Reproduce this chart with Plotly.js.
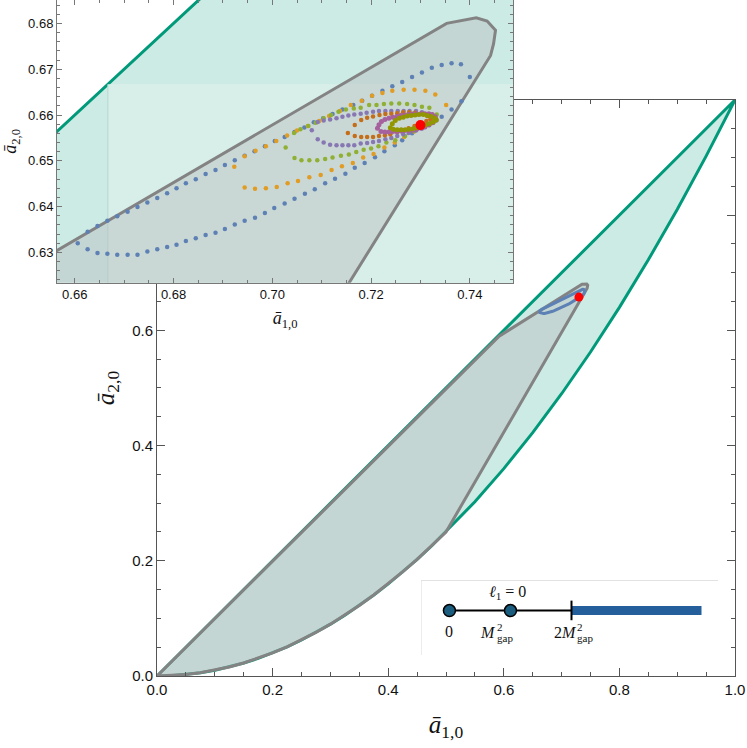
<!DOCTYPE html>
<html>
<head>
<meta charset="utf-8">
<script src="https://cdn.plot.ly/plotly-3.0.1.min.js"></script>
<style>
  html, body { margin: 0; padding: 0; background: #fff; }
  #plot { width: 747px; height: 748px; }
</style>
</head>
<body>
<div id="plot"></div>
<script>
// Allowed region: between the parabola and the diagonal.
const allowedX = [0, 0.025, 0.05, 0.075, 0.1, 0.125, 0.15, 0.175, 0.2, 0.225, 0.25, 0.275, 0.3,
  0.325, 0.35, 0.375, 0.4, 0.425, 0.45, 0.475, 0.5,
  0.55, 0.6, 0.65, 0.7, 0.75, 0.8, 0.85, 0.9, 0.95, 1];
const allowedLower = [0, 0.000625, 0.0025, 0.005625, 0.01, 0.015625, 0.0225, 0.030625, 0.04,
  0.050625, 0.0625, 0.075625, 0.09, 0.105625, 0.1225, 0.140625, 0.16, 0.180625, 0.2025, 0.225625, 0.25,
  0.3025, 0.36, 0.4225, 0.49, 0.5625, 0.64, 0.7225, 0.81, 0.9025, 1];
const allowedUpperX = [0, 1];
const allowedUpperY = [0, 1];

// Gapped region (grey).
const grayUpperX = [0, 0.592, 0.7353, 0.7395, 0.7413, 0.7435, 0.7452, 0.7448, 0.7442];
const grayUpperY = [0, 0.590, 0.6800, 0.6808, 0.6812, 0.6805, 0.6785, 0.6755, 0.6730];
const grayLowerX = [0.5, 0.475, 0.45, 0.425, 0.4, 0.375, 0.35, 0.325, 0.3, 0.275, 0.25, 0.225,
  0.2, 0.175, 0.15, 0.125, 0.1, 0.075, 0.05, 0.025, 0];
const grayLowerY = [0.25, 0.225625, 0.2025, 0.180625, 0.16, 0.140625, 0.1225, 0.105625, 0.09,
  0.075625, 0.0625, 0.050625, 0.04, 0.030625, 0.0225, 0.015625, 0.01, 0.005625, 0.0025, 0.000625, 0];

// Lighter patch seen in the zoomed panel.
const patchX = [0.6667, 0.76];
const patchY = [0.60, 0.6667];

// Dotted series in the zoomed panel.
const blueX = [0.6606, 0.6626, 0.6646, 0.6666, 0.6686, 0.6707, 0.6727, 0.6747, 0.6767, 0.6787,
  0.6806, 0.6825, 0.6845, 0.6865, 0.6885, 0.6904, 0.6924, 0.6944, 0.6964, 0.6985, 0.7005, 0.7025,
  0.7045, 0.7065, 0.7084, 0.7103, 0.7122, 0.7142, 0.7164, 0.7182, 0.7202, 0.7223, 0.7243, 0.7263,
  0.7283, 0.7303, 0.7323, 0.7343, 0.7363, 0.7382, 0.7400,
  0.7383, 0.7363, 0.7343, 0.7323, 0.7303, 0.7283, 0.7263, 0.7248, 0.7227, 0.7208, 0.7187, 0.7167,
  0.7148, 0.7127, 0.7107, 0.7086, 0.7066, 0.7045, 0.7025, 0.7004, 0.6985, 0.6965, 0.6944, 0.6924,
  0.6904, 0.6885, 0.6865, 0.6845, 0.6825, 0.6806, 0.6787, 0.6767, 0.6747, 0.6727, 0.6707, 0.6686,
  0.6666, 0.6646, 0.6626];
const blueY = [0.6320, 0.6345, 0.6358, 0.6369, 0.6379, 0.6389, 0.6399, 0.6409, 0.6419, 0.6429,
  0.6440, 0.6451, 0.6460, 0.6471, 0.6480, 0.6491, 0.6501, 0.6511, 0.6521, 0.6532, 0.6543, 0.6552,
  0.6563, 0.6573, 0.6584, 0.6593, 0.6602, 0.6612, 0.6622, 0.6631, 0.6642, 0.6653, 0.6663, 0.6672,
  0.6683, 0.6693, 0.6703, 0.6709, 0.6713, 0.6711, 0.6683,
  0.6630, 0.6612, 0.6596, 0.6583, 0.6571, 0.6560, 0.6545, 0.6534, 0.6521, 0.6508, 0.6495, 0.6485,
  0.6472, 0.6461, 0.6451, 0.6438, 0.6428, 0.6417, 0.6407, 0.6397, 0.6386, 0.6376, 0.6369, 0.6361,
  0.6351, 0.6343, 0.6338, 0.6331, 0.6325, 0.6317, 0.6312, 0.6307, 0.6302, 0.6295, 0.6295, 0.6295,
  0.6297, 0.6299, 0.6307];

const orangeX = [0.6923, 0.6944, 0.6966, 0.6987, 0.7008, 0.7030, 0.7050, 0.7072, 0.7095, 0.7115,
  0.7137, 0.7159, 0.7181, 0.7202, 0.7223, 0.7243, 0.7266, 0.7288, 0.7310, 0.7330, 0.7352,
  0.7332, 0.7310, 0.7287, 0.7267, 0.7248, 0.7227, 0.7205, 0.7184, 0.7163, 0.7141, 0.7120, 0.7098,
  0.7075, 0.7052, 0.7031, 0.7009, 0.6987, 0.6965, 0.6944];
const orangeY = [0.6487, 0.6510, 0.6522, 0.6532, 0.6543, 0.6555, 0.6566, 0.6576, 0.6587, 0.6598,
  0.6609, 0.6622, 0.6631, 0.6642, 0.6648, 0.6653, 0.6655, 0.6655, 0.6653, 0.6645, 0.6622,
  0.6591, 0.6576, 0.6564, 0.6552, 0.6540, 0.6529, 0.6515, 0.6507, 0.6495, 0.6488, 0.6480, 0.6469,
  0.6464, 0.6456, 0.6451, 0.6443, 0.6440, 0.6439, 0.6442];

const greenX = [0.7027, 0.7044, 0.7057, 0.7073, 0.7088, 0.7104, 0.7119, 0.7134, 0.7149, 0.7165,
  0.7179, 0.7196, 0.7211, 0.7226, 0.7241, 0.7257, 0.7273, 0.7288, 0.7303, 0.7318, 0.7333,
  0.7322, 0.7306, 0.7288, 0.7269, 0.7249, 0.7231, 0.7215, 0.7200, 0.7185, 0.7170, 0.7155, 0.7139,
  0.7122, 0.7107, 0.7091, 0.7075, 0.7059, 0.7045];
const greenY = [0.6529, 0.6561, 0.6569, 0.6576, 0.6583, 0.6593, 0.6600, 0.6607, 0.6612, 0.6614,
  0.6616, 0.6622, 0.6622, 0.6624, 0.6625, 0.6625, 0.6624, 0.6622, 0.6618, 0.6616, 0.6601,
  0.6587, 0.6576, 0.6565, 0.6554, 0.6545, 0.6540, 0.6532, 0.6527, 0.6524, 0.6519, 0.6514, 0.6511,
  0.6507, 0.6504, 0.6501, 0.6501, 0.6501, 0.6506];

const purpleX = [0.7080, 0.7092, 0.7104, 0.7117, 0.7130, 0.7142, 0.7154, 0.7166, 0.7179, 0.7191,
  0.7204, 0.7216, 0.7229, 0.7241, 0.7254, 0.7266, 0.7278, 0.7291, 0.7303, 0.7314, 0.7325, 0.7332,
  0.7318, 0.7304, 0.7291, 0.7276, 0.7265, 0.7253, 0.7241, 0.7229, 0.7216, 0.7204, 0.7192, 0.7179,
  0.7166, 0.7154, 0.7142, 0.7130, 0.7117, 0.7104, 0.7092];
const purpleY = [0.6567, 0.6585, 0.6588, 0.6590, 0.6593, 0.6596, 0.6599, 0.6601, 0.6603, 0.6605,
  0.6607, 0.6609, 0.6609, 0.6609, 0.6609, 0.6609, 0.6609, 0.6609, 0.6606, 0.6601, 0.6596, 0.6588,
  0.6578, 0.6571, 0.6566, 0.6561, 0.6558, 0.6554, 0.6550, 0.6547, 0.6543, 0.6541, 0.6539, 0.6538,
  0.6534, 0.6534, 0.6534, 0.6534, 0.6535, 0.6540, 0.6547];

const rustX = [0.7153, 0.7167, 0.7180, 0.7192, 0.7204, 0.7217, 0.7229, 0.7241, 0.7253, 0.7265,
  0.7277, 0.7289, 0.7302, 0.7314, 0.7320, 0.7312, 0.7301, 0.7288, 0.7276, 0.7264, 0.7253, 0.7239,
  0.7228, 0.7216, 0.7204, 0.7192, 0.7180, 0.7167];
const rustY = [0.6561, 0.6578, 0.6589, 0.6594, 0.6597, 0.6600, 0.6602, 0.6603, 0.6604, 0.6606,
  0.6606, 0.6605, 0.6603, 0.6598, 0.6591, 0.6587, 0.6580, 0.6576, 0.6571, 0.6567, 0.6563, 0.6558,
  0.6556, 0.6554, 0.6552, 0.6552, 0.6552, 0.6554];

const magentaX = [0.7213, 0.7216, 0.7221, 0.7228, 0.7236, 0.7244, 0.7252, 0.7260, 0.7268, 0.7276,
  0.7284, 0.7292, 0.7301, 0.7309, 0.7317, 0.7324, 0.7330, 0.7331, 0.7325, 0.7317, 0.7309, 0.7301,
  0.7292, 0.7284, 0.7276, 0.7268, 0.7260, 0.7252, 0.7244, 0.7236, 0.7228, 0.7220];
const magentaY = [0.6571, 0.6579, 0.6586, 0.6590, 0.6593, 0.6595, 0.6597, 0.6599, 0.6600, 0.6601,
  0.6602, 0.6603, 0.6603, 0.6603, 0.6603, 0.6601, 0.6596, 0.6590, 0.6583, 0.6578, 0.6574, 0.6571,
  0.6569, 0.6567, 0.6566, 0.6566, 0.6565, 0.6564, 0.6564, 0.6563, 0.6563, 0.6564];

const oliveX = [0.7239, 0.7243, 0.7249, 0.7257, 0.7265, 0.7273, 0.7281, 0.7289, 0.7297, 0.7306,
  0.7314, 0.7322, 0.7329, 0.7332, 0.7326, 0.7318, 0.7310, 0.7302, 0.7293, 0.7285, 0.7277, 0.7269,
  0.7261, 0.7253, 0.7245];
const oliveY = [0.6572, 0.6581, 0.6588, 0.6593, 0.6595, 0.6598, 0.6599, 0.6600, 0.6601, 0.6601,
  0.6599, 0.6597, 0.6593, 0.6589, 0.6585, 0.6581, 0.6578, 0.6575, 0.6572, 0.6570, 0.6569, 0.6568,
  0.6568, 0.6568, 0.6569];

const redPoint = [0.7300, 0.6578];

// Spectrum sketch (units of M_gap^2).
const specStates = [0, 1];
const specLine = [0, 2];
const specCut = 2;
const specContinuum = [2, 4.13];

const TEAL = '#cdebe5';
const TEAL_LIGHT = '#d8eee9';
const GREEN = '#009a7a';
const GRAY_LINE = '#838383';
const GRAY_FILL = 'rgba(183,186,186,0.42)';
const AX = '#555';

const allowedPolyX = allowedUpperX.slice(0, 1).concat(allowedX.slice().reverse());
const allowedPolyY = allowedUpperY.slice(0, 1).concat(allowedLower.slice().reverse());
const grayPolyX = grayUpperX.concat(grayLowerX);
const grayPolyY = grayUpperY.concat(grayLowerY);

function regionTrace(xa, ya) {
  return { x: allowedPolyX, y: allowedPolyY, xaxis: xa, yaxis: ya, mode: 'lines', fill: 'toself',
    fillcolor: TEAL, line: { color: GREEN, width: 3 } };
}

function grayTrace(xa, ya) {
  return { x: grayPolyX, y: grayPolyY, xaxis: xa, yaxis: ya, mode: 'lines', fill: 'toself',
    fillcolor: GRAY_FILL, line: { color: GRAY_LINE, width: 3 } };
}

function dots(x, y, color, size) {
  return { x: x, y: y, xaxis: 'x2', yaxis: 'y2', mode: 'markers',
    marker: { color: color, size: size || 4.5 } };
}

const traces = [];
// main panel
traces.push(regionTrace('x', 'y'));
traces.push(grayTrace('x', 'y'));
traces.push({ x: blueX.concat(blueX.slice(0, 1)), y: blueY.concat(blueY.slice(0, 1)),
  xaxis: 'x', yaxis: 'y', mode: 'lines', line: { color: '#5E81B5', width: 3 } });
traces.push({ x: [redPoint[0]], y: [redPoint[1]], xaxis: 'x', yaxis: 'y', mode: 'markers',
  marker: { color: '#ff0000', size: 9 } });

// zoomed panel (first trace hides the main frame underneath)
traces.push({ x: [0.6, 0.8, 0.8, 0.6], y: [0.6, 0.6, 0.7, 0.7], xaxis: 'x2', yaxis: 'y2',
  mode: 'lines', fill: 'toself', fillcolor: '#ffffff', line: { width: 0, color: '#ffffff' } });
traces.push(regionTrace('x2', 'y2'));
traces.push({ x: [patchX[0], patchX[1], patchX[1], patchX[0]], y: [patchY[0], patchY[0], patchY[1], patchY[1]],
  xaxis: 'x2', yaxis: 'y2', mode: 'lines', fill: 'toself', fillcolor: TEAL_LIGHT,
  line: { width: 0, color: TEAL_LIGHT } });
traces.push({ x: [patchX[0], patchX[0]], y: [patchY[0], patchY[1]], xaxis: 'x2', yaxis: 'y2',
  mode: 'lines', line: { color: '#b5d6cf', width: 1 } });
traces.push(grayTrace('x2', 'y2'));
traces.push(dots(blueX, blueY, '#5E81B5'));
traces.push(dots(orangeX, orangeY, '#E19C24'));
traces.push(dots(greenX, greenY, '#8FB032'));
traces.push(dots(purpleX, purpleY, '#8778B3'));
traces.push(dots(rustX, rustY, '#C56E1A'));
traces.push(dots(magentaX, magentaY, '#A5609D', 5));
traces.push(dots(oliveX, oliveY, '#929600', 5));
traces.push({ x: [redPoint[0]], y: [redPoint[1]], xaxis: 'x2', yaxis: 'y2', mode: 'markers',
  marker: { color: '#ff0000', size: 10 } });

// spectrum sketch
traces.push({ x: specLine, y: [0.2, 0.2], xaxis: 'x3', yaxis: 'y3', mode: 'lines',
  line: { color: '#000', width: 2 } });
traces.push({ x: specContinuum, y: [0.2, 0.2], xaxis: 'x3', yaxis: 'y3', mode: 'lines',
  line: { color: '#245f9c', width: 9 } });
traces.push({ x: [specCut, specCut], y: [-0.06, 0.47], xaxis: 'x3', yaxis: 'y3', mode: 'lines',
  line: { color: '#000', width: 2 } });
traces.push({ x: specStates, y: [0.2, 0.2], xaxis: 'x3', yaxis: 'y3', mode: 'markers',
  marker: { color: '#1a5d7e', size: 12, line: { color: '#000', width: 1.5 } } });

const tickFontMain = { family: 'Liberation Sans, Arial, sans-serif', size: 15, color: '#111' };
const tickFontInset = { family: 'Liberation Sans, Arial, sans-serif', size: 13, color: '#111' };
const titleFont = { family: 'Liberation Serif, serif', size: 25, color: '#111' };
const titleFontInset = { family: 'Liberation Serif, serif', size: 18, color: '#111' };
const serif = { family: 'Liberation Serif, serif', size: 16, color: '#111' };
const serifSmall = { family: 'Liberation Serif, serif', size: 11, color: '#111' };

function frameAxis(extra) {
  return Object.assign({
    showline: true, mirror: 'ticks', linecolor: AX, linewidth: 1,
    ticks: 'inside', tickcolor: AX, showgrid: false, zeroline: false, fixedrange: true,
  }, extra);
}

const layout = {
  width: 747, height: 748,
  margin: { l: 57, r: 12, t: 0, b: 72 },
  paper_bgcolor: '#fff', plot_bgcolor: 'rgba(0,0,0,0)',
  showlegend: false, hovermode: false,
  xaxis: frameAxis({ domain: [0.1475, 1], anchor: 'y', range: [0, 1], dtick: 0.2, tick0: 0,
    tickformat: '.1f', ticklen: 8, tickfont: tickFontMain,
    minor: { dtick: 0.05, ticks: 'inside', ticklen: 4, tickcolor: AX },
    title: { text: '<i>ā</i><sub>1,0</sub>', font: titleFont, standoff: 18 } }),
  yaxis: frameAxis({ domain: [0, 0.8521], anchor: 'x', range: [0, 1], dtick: 0.2, tick0: 0,
    tickformat: '.1f', ticklen: 8, tickfont: tickFontMain,
    minor: { dtick: 0.05, ticks: 'inside', ticklen: 4, tickcolor: AX },
    title: { text: '<i>ā</i><sub>2,0</sub>', font: titleFont, standoff: 10 } }),
  xaxis2: frameAxis({ domain: [0, 0.673], anchor: 'y2', range: [0.6564, 0.7488], dtick: 0.02, tick0: 0.66,
    tickformat: '.2f', ticklen: 5, tickfont: tickFontInset, linecolor: '#777', tickcolor: '#777',
    minor: { dtick: 0.005, ticks: 'inside', ticklen: 3, tickcolor: '#777' },
    title: { text: '<i>ā</i><sub>1,0</sub>', font: titleFontInset, standoff: 10 } }),
  yaxis2: frameAxis({ domain: [0.5818, 1], anchor: 'x2', range: [0.6234, 0.6851], dtick: 0.01, tick0: 0.63,
    tickformat: '.2f', ticklen: 5, tickfont: tickFontInset, linecolor: '#777', tickcolor: '#777',
    minor: { dtick: 0.002, ticks: 'inside', ticklen: 3, tickcolor: '#777' },
    title: { text: '<i>ā</i><sub>2,0</sub>', font: titleFontInset, standoff: 6 } }),
  xaxis3: { domain: [0.5383, 0.9749], anchor: 'y3', range: [-0.45, 4.4], side: 'top',
    showline: true, linecolor: '#e2e2e2', linewidth: 1, showticklabels: false, ticks: '',
    showgrid: false, zeroline: false, fixedrange: true },
  yaxis3: { domain: [0.0311, 0.1405], anchor: 'x3', range: [-1, 1],
    showline: true, linecolor: '#ececec', linewidth: 1, showticklabels: false, ticks: '',
    showgrid: false, zeroline: false, fixedrange: true },
  annotations: [
    { xref: 'x3', yref: 'y3', x: 0.95, y: 0.69, text: '<i>ℓ</i><sub>1</sub> = 0', showarrow: false, font: serif },
    { xref: 'x3', yref: 'y3', x: 0, y: -0.37, text: '0', showarrow: false, font: serif },
    { xref: 'x3', yref: 'y3', x: 0.8, y: -0.38, xanchor: 'right', text: '<i>M</i>', showarrow: false, font: serif },
    { xref: 'x3', yref: 'y3', x: 0.74, y: -0.25, xanchor: 'left', text: '2', showarrow: false, font: serifSmall },
    { xref: 'x3', yref: 'y3', x: 0.74, y: -0.55, xanchor: 'left', text: 'gap', showarrow: false, font: serifSmall },
    { xref: 'x3', yref: 'y3', x: 2.12, y: -0.38, xanchor: 'right', text: '2<i>M</i>', showarrow: false, font: serif },
    { xref: 'x3', yref: 'y3', x: 2.06, y: -0.25, xanchor: 'left', text: '2', showarrow: false, font: serifSmall },
    { xref: 'x3', yref: 'y3', x: 2.06, y: -0.55, xanchor: 'left', text: 'gap', showarrow: false, font: serifSmall },
  ],
};

Plotly.newPlot('plot', traces, layout, { staticPlot: true, displayModeBar: false });
</script>
</body>
</html>
